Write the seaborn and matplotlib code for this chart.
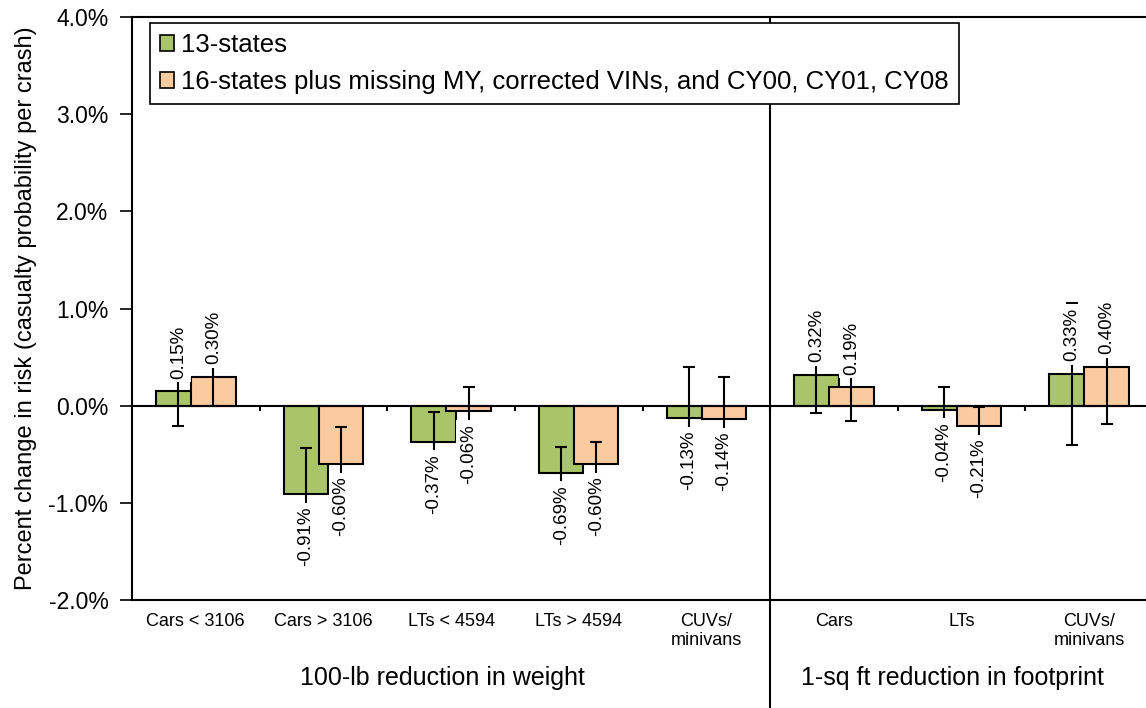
import matplotlib
matplotlib.use("Agg")
import matplotlib.pyplot as plt
import matplotlib.transforms as mtransforms
from matplotlib.ticker import FuncFormatter
import numpy as np
import pandas as pd
import seaborn as sns

# Vehicle classes (unique keys) and their axis labels
slots = ["Cars < 3106", "Cars > 3106", "LTs < 4594", "LTs > 4594",
         "CUVs/minivans (weight)", "Cars (footprint)", "LTs (footprint)",
         "CUVs/minivans (footprint)"]
tick_labels = ["Cars < 3106", "Cars > 3106", "LTs < 4594", "LTs > 4594",
               "CUVs/\nminivans", "Cars", "LTs", "CUVs/\nminivans"]
group_titles = ["100-lb reduction in weight", "1-sq ft reduction in footprint"]
group_sizes = [5, 3]

series = ["13-states",
          "16-states plus missing MY, corrected VINs, and CY00, CY01, CY08"]

# Point estimates (% change in risk) and half-widths of the confidence bounds
est_13 = [0.15, -0.91, -0.37, -0.69, -0.13, 0.32, -0.04, 0.33]
est_16 = [0.30, -0.60, -0.06, -0.60, -0.14, 0.19, -0.21, 0.40]
err_13 = [0.36, 0.47, 0.30, 0.26, 0.53, 0.40, 0.235, 0.73]
err_16 = [0.30, 0.38, 0.255, 0.23, 0.43, 0.345, 0.20, 0.59]

colors = ["#A9C46B", "#FBCBA0"]

df = pd.DataFrame({
    "slot": slots * 2,
    "series": [series[0]] * len(slots) + [series[1]] * len(slots),
    "value": est_13 + est_16,
})

sns.set_theme(style="white")
plt.rcParams["font.family"] = ["Liberation Sans", "DejaVu Sans"]
plt.rcParams["text.color"] = "black"
plt.rcParams["axes.labelcolor"] = "black"
plt.rcParams["xtick.color"] = "black"
plt.rcParams["ytick.color"] = "black"

fig = plt.figure(figsize=(11.46, 7.08), dpi=100)
ax = fig.add_axes([132 / 1146, 108 / 708, 1021 / 1146, 583 / 708])

sns.barplot(data=df, x="slot", y="value", hue="series", order=slots,
            hue_order=series, palette=colors, saturation=1, width=0.548,
            gap=-0.27, errorbar=None, edgecolor="black", linewidth=1.5,
            legend=False, ax=ax, zorder=2)

# Confidence bounds and value labels at the bar centres
for container, vals, errs in zip(ax.containers, [est_13, est_16], [err_13, err_16]):
    xs = [p.get_x() + p.get_width() / 2 for p in container]
    ax.errorbar(xs, vals, yerr=errs, fmt="none", ecolor="black",
                elinewidth=1.5, capsize=4.5, capthick=1.5, zorder=3)
    for x, v in zip(xs, vals):
        up = v >= 0
        ax.annotate(f"{v:.2f}%", xy=(x, v), xytext=(0, 9 if up else -9),
                    textcoords="offset points", rotation=90, ha="center",
                    va="bottom" if up else "top", fontsize=13.5, color="black",
                    bbox=dict(boxstyle="square,pad=0.2", fc="white", ec="none"),
                    zorder=4)

# Axes styling
ax.set_xlim(-0.5, len(slots) - 0.5)
ax.set_ylim(-2, 4)
ax.set_yticks(np.arange(-2, 4.01, 1))
ax.yaxis.set_major_formatter(FuncFormatter(lambda v, _: f"{v:.1f}%"))
ax.tick_params(axis="y", direction="out", length=8.5, width=1.2, pad=8.5,
               labelsize=16.5, left=True, colors="black")
ax.set_xticks(range(len(slots)))
ax.set_xticklabels(tick_labels, fontsize=13)
ax.tick_params(axis="x", length=0, pad=9, colors="black")
ax.set_xlabel("")
ax.set_ylabel("Percent change in risk (casualty probability per crash)",
              fontsize=17, labelpad=8, color="black")

for side in ["left", "top", "bottom"]:
    ax.spines[side].set_visible(True)
    ax.spines[side].set_color("black")
    ax.spines[side].set_linewidth(1.5)
ax.spines["right"].set_visible(False)

# Zero axis with category boundary ticks
ax.axhline(0, color="black", lw=1.5, zorder=2.5)
ax.vlines(np.arange(0.5, len(slots) - 0.5, 1), -0.06, 0, color="black",
          lw=1.5, zorder=2.5)

# Divider between the weight and footprint panels, plus panel titles
trans = mtransforms.blended_transform_factory(ax.transData, ax.transAxes)
split = group_sizes[0] - 0.5
ax.plot([split, split], [-0.19, 1], transform=trans, color="black", lw=1.5,
        clip_on=False, zorder=2)
start = 0
for title, n in zip(group_titles, group_sizes):
    ax.text(start + (n - 1) / 2 - 0.07, -0.134, title, transform=trans,
            ha="center", va="center", fontsize=18, color="black")
    start += n

# Legend
handles = [plt.Rectangle((0, 0), 1, 1, fc=c, ec="black", lw=1.2) for c in colors]
leg = ax.legend(handles, series, loc="upper left",
                bbox_to_anchor=(18 / 1021, 1 - 6 / 583), borderaxespad=0,
                fontsize=18.5, frameon=True, fancybox=False, framealpha=1,
                edgecolor="black", handlelength=0.55, handleheight=0.55,
                handletextpad=0.25, borderpad=0.4, labelspacing=0.5)
leg.get_frame().set_linewidth(1.2)
leg.set_zorder(6)

fig.savefig("out.png", dpi=100, facecolor="white")
